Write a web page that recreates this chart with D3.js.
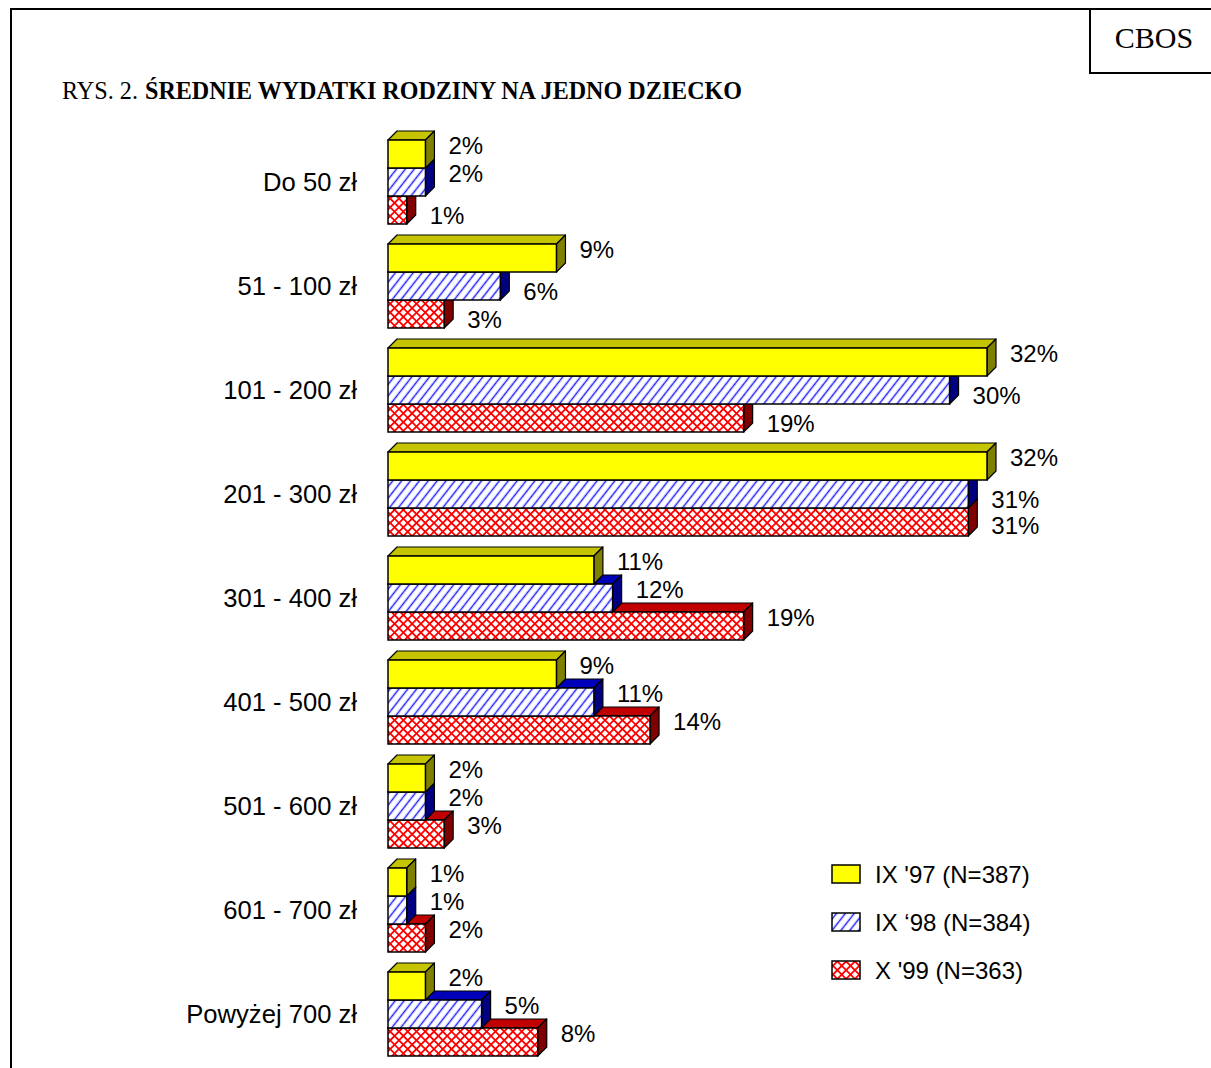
<!DOCTYPE html>
<html>
<head>
<meta charset="utf-8">
<script src="https://cdn.jsdelivr.net/npm/d3@7"></script>
<style>
  html, body { margin: 0; padding: 0; background: #fff; }
  svg { display: block; }
</style>
</head>
<body>
<svg id="chart" width="1211" height="1068"></svg>
<script>
// ---------- DATA ----------
const categories = ["Do 50 zł", "51 - 100 zł", "101 - 200 zł", "201 - 300 zł", "301 - 400 zł",
                    "401 - 500 zł", "501 - 600 zł", "601 - 700 zł", "Powyżej 700 zł"];
const seriesNames = ["IX '97 (N=387)", "IX ‘98 (N=384)", "X '99 (N=363)"];
const values97 = [2, 9, 32, 32, 11, 9, 2, 1, 2];
const values98 = [2, 6, 30, 31, 12, 11, 2, 1, 5];
const values99 = [1, 3, 19, 31, 19, 14, 3, 2, 8];
const titlePrefix = "RYS. 2.";
const titleMain = "ŚREDNIE WYDATKI RODZINY NA JEDNO DZIECKO";
const sourceLabel = "CBOS";

// ---------- SETUP ----------
const W = 1211, H = 1068;
const svg = d3.select("#chart");
const SANS = "'Liberation Sans', Arial, sans-serif";
const SERIF = "'Liberation Serif', 'Times New Roman', serif";
const depth = 9;

const series = [
  { name: seriesNames[0], values: values97, front: "#FFFF00", top: "#C4C400", side: "#808000" },
  { name: seriesNames[1], values: values98, front: "url(#hatchBlue)", top: "#0000B8", side: "#000080" },
  { name: seriesNames[2], values: values99, front: "url(#hatchRed)", top: "#C00000", side: "#800000" }
];

// ---------- PATTERNS ----------
const defs = svg.append("defs");
const pb = defs.append("pattern").attr("id", "hatchBlue")
  .attr("patternUnits", "userSpaceOnUse").attr("width", 7).attr("height", 7)
  .attr("patternTransform", "rotate(38)");
pb.append("rect").attr("width", 7).attr("height", 7).attr("fill", "#fff");
pb.append("line").attr("x1", 3.5).attr("y1", 0).attr("x2", 3.5).attr("y2", 7)
  .attr("stroke", "#2020FF").attr("stroke-width", 1.5);

const rs = 6.2;
const pr = defs.append("pattern").attr("id", "hatchRed")
  .attr("patternUnits", "userSpaceOnUse").attr("width", rs).attr("height", rs)
  .attr("patternTransform", "rotate(45)");
pr.append("rect").attr("width", rs).attr("height", rs).attr("fill", "#fff");
pr.append("rect").attr("x", 0).attr("y", 0).attr("width", rs).attr("height", 1.8).attr("fill", "#FF0000");
pr.append("rect").attr("x", 0).attr("y", 0).attr("width", 1.8).attr("height", rs).attr("fill", "#FF0000");

// ---------- FRAME ----------
svg.append("path").attr("d", `M11,${H} L11,9 L${W},9`)
  .attr("fill", "none").attr("stroke", "#000").attr("stroke-width", 2);
svg.append("path").attr("d", `M1090,9 L1090,73 L${W},73`)
  .attr("fill", "none").attr("stroke", "#000").attr("stroke-width", 2);
svg.append("text").attr("x", 1154).attr("y", 48).attr("text-anchor", "middle")
  .attr("font-family", SERIF).attr("font-size", 30).text(sourceLabel);

// ---------- TITLE ----------
svg.append("text").attr("x", 62).attr("y", 99)
  .attr("font-family", SERIF).attr("font-size", 25)
  .attr("textLength", 76).attr("lengthAdjust", "spacingAndGlyphs")
  .text(titlePrefix);
svg.append("text").attr("x", 145).attr("y", 99)
  .attr("font-family", SERIF).attr("font-size", 25).attr("font-weight", "bold")
  .attr("textLength", 597).attr("lengthAdjust", "spacingAndGlyphs")
  .text(titleMain);

// ---------- SCALES ----------
const x = d3.scaleLinear().domain([0, 32]).range([388, 987]);
const y = d3.scaleBand().domain(categories).range([130, 1066])
  .paddingInner(20 / 104).paddingOuter(10 / 104);
const ys = d3.scaleBand().domain(d3.range(series.length)).range([0, y.bandwidth()]);

// ---------- CATEGORY LABELS ----------
svg.append("g").selectAll("text").data(categories).join("text")
  .attr("x", 357)
  .attr("y", d => y(d) + y.bandwidth() / 2)
  .attr("dy", "0.36em")
  .attr("text-anchor", "end")
  .attr("font-family", SANS).attr("font-size", 25.6)
  .text(d => d);

// ---------- BARS ----------
const barsG = svg.append("g");
const labelsG = svg.append("g");
const x0 = x(0);
const labelHalf = 11;

categories.forEach((cat, ci) => {
  const g = barsG.append("g");
  // draw bottom series first so upper bars occlude their 3D faces
  for (let si = series.length - 1; si >= 0; si--) {
    const s = series[si];
    const v = s.values[ci];
    const top = y(cat) + ys(si), bot = top + ys.bandwidth(), end = x(v);
    g.append("polygon")
      .attr("points", [[x0, top], [x0 + depth, top - depth], [end + depth, top - depth], [end, top]].join(" "))
      .attr("fill", s.top).attr("stroke", "#000").attr("stroke-width", 1.2).attr("stroke-linejoin", "round");
    g.append("polygon")
      .attr("points", [[end, top], [end + depth, top - depth], [end + depth, bot - depth], [end, bot]].join(" "))
      .attr("fill", s.side).attr("stroke", "#000").attr("stroke-width", 1.2).attr("stroke-linejoin", "round");
    g.append("rect")
      .attr("x", x0).attr("y", top).attr("width", end - x0).attr("height", bot - top)
      .attr("fill", s.front).attr("stroke", "#000").attr("stroke-width", 1.5);
  }

  // value labels with simple collision avoidance
  const placed = [];
  series.forEach((s, si) => {
    const v = s.values[ci];
    const top = y(cat) + ys(si), bot = top + ys.bandwidth();
    const lx = x(v) + depth + 14;
    const txt = labelsG.append("text")
      .attr("x", lx)
      .attr("font-family", SANS).attr("font-size", 24)
      .text(v + "%");
    const w = txt.node().getComputedTextLength();
    let cy = (top + bot) / 2 - depth;
    let moved = true, guard = 0;
    while (moved && guard++ < 10) {
      moved = false;
      for (let sj = 0; sj < si; sj++) {
        const t2 = y(cat) + ys(sj), b2 = t2 + ys.bandwidth();
        const e2 = x(series[sj].values[ci]) + depth;
        if (lx < e2 && cy - labelHalf < b2 && cy + labelHalf > t2 - depth) {
          cy = b2 + 8 + labelHalf; moved = true;
        }
      }
      placed.forEach(p => {
        if (lx < p.x1 && lx + w > p.x0 && cy - labelHalf < p.y1 && cy + labelHalf > p.y0) {
          cy = p.y1 + 4 + labelHalf; moved = true;
        }
      });
    }
    placed.push({ x0: lx, x1: lx + w, y0: cy - labelHalf, y1: cy + labelHalf });
    txt.attr("y", cy).attr("dy", "0.36em");
  });
});

// ---------- LEGEND ----------
const legend = svg.append("g");
const ly = d3.scaleBand().domain(d3.range(series.length)).range([850, 994]);
series.forEach((s, i) => {
  const cy = ly(i) + ly.bandwidth() / 2;
  legend.append("rect").attr("x", 832).attr("y", cy - 9).attr("width", 28).attr("height", 18)
    .attr("fill", s.front).attr("stroke", "#000").attr("stroke-width", 1.5);
  legend.append("text").attr("x", 875).attr("y", cy).attr("dy", "0.36em")
    .attr("font-family", SANS).attr("font-size", 24)
    .text(s.name);
});
</script>
</body>
</html>
